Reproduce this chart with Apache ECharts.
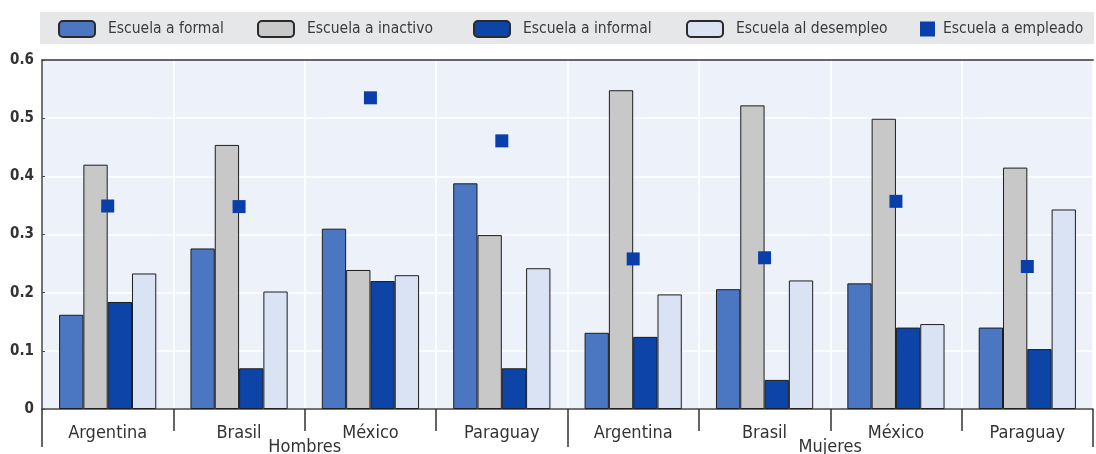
<!DOCTYPE html>
<html><head><meta charset="utf-8">
<script src="https://cdn.jsdelivr.net/npm/echarts@6/dist/echarts.min.js"></script>
<style>html,body{margin:0;padding:0;background:#fff}#c{width:1096px;height:454px}</style>
</head><body><div id="c"></div>
<script>
const countries = ['Argentina','Brasil','México','Paraguay','Argentina','Brasil','México','Paraguay'];
const groups = ['Hombres','Mujeres'];
const yTicks = [0,0.1,0.2,0.3,0.4,0.5,0.6];
const seriesNames = ['Escuela a formal','Escuela a inactivo','Escuela a informal','Escuela al desempleo','Escuela a empleado'];
const formal     = [0.162,0.276,0.310,0.388,0.131,0.206,0.216,0.140];
const inactivo   = [0.420,0.454,0.239,0.299,0.548,0.522,0.499,0.415];
const informal   = [0.184,0.070,0.220,0.070,0.124,0.050,0.140,0.103];
const desempleo  = [0.233,0.202,0.230,0.242,0.197,0.221,0.146,0.343];
const empleado   = [0.349,0.348,0.535,0.461,0.258,0.260,0.357,0.245];

const FONT = '"DejaVu Sans Condensed","Liberation Sans Narrow",sans-serif';
const chart = echarts.init(document.getElementById('c'));
const barStyle = (c) => ({color:c, borderColor:'#1e1e1e', borderWidth:1});
const legendLeft = [58, 257, 473, 686, 920];
const legends = seriesNames.map((n, i) => {
  const isSq = i === 4;
  return {
    left: legendLeft[i], top: isSq ? 21 : 20, padding: 0,
    itemWidth: isSq ? 15 : 36, itemHeight: isSq ? 15 : 16,
    symbolKeepAspect: true,
    itemStyle: isSq ? {borderWidth:0} : {borderWidth:2, borderColor:'#2a2a2a'},
    textStyle:{fontFamily:FONT, fontSize:15.5, color:'#3a3a3a', padding:[0,0,0, isSq ? 3 : 8]},
    data: isSq ? [{name:n, icon:'rect'}] : [n]
  };
});
chart.setOption({
  animation:false,
  textStyle:{fontFamily:FONT},
  graphic:[{type:'rect', shape:{x:40,y:12,width:1054,height:32}, style:{fill:'#e6e7e9'}, z:-1}],
  legend: legends,
  grid:{left:42, right:3, top:60, bottom:45, show:true, backgroundColor:'#edf1f9', borderWidth:0,
        containLabel:false, outerBoundsMode:'none'},
  xAxis:[{
    type:'category', data:countries, position:'bottom',
    axisLine:{show:true, lineStyle:{color:'#444', width:1.5}},
    axisTick:{show:true, interval:0, length:22, lineStyle:{color:'#333', width:1.5}},
    axisLabel:{interval:0, margin:15, fontFamily:FONT, fontSize:18, color:'#333'},
    splitLine:{show:true, interval:0, lineStyle:{color:'#ffffff', width:1.5}}
  },{
    type:'category', data:groups, position:'bottom',
    axisLine:{show:false},
    axisTick:{show:true, interval:0, length:38, lineStyle:{color:'#333', width:1.5}},
    axisLabel:{interval:0, margin:29, fontFamily:FONT, fontSize:18, color:'#333'},
    splitLine:{show:false}
  },{
    type:'category', data:groups, position:'top',
    axisLine:{show:true, lineStyle:{color:'#666', width:2}},
    axisTick:{show:false}, axisLabel:{show:false}
  }],
  yAxis:{
    type:'value', min:0, max:0.6, interval:0.1,
    axisLine:{show:true, lineStyle:{color:'#444', width:1.5}},
    axisTick:{show:true, inside:true, length:3, lineStyle:{color:'#444'}},
    axisLabel:{fontFamily:FONT, fontSize:15, fontWeight:'bold', color:'#333', margin:8,
      formatter:(v)=> yTicks.includes(Math.round(v*10)/10) ? (v===0?'0':v.toFixed(1)) : ''},
    splitLine:{show:true, lineStyle:{color:'#ffffff', width:1.5}}
  },
  series:[
    {name:seriesNames[0], type:'bar', data:formal, itemStyle:barStyle('#4a76c2'), barGap:'0%', barCategoryGap:'26%'},
    {name:seriesNames[1], type:'bar', data:inactivo, itemStyle:barStyle('#c8c8c9')},
    {name:seriesNames[2], type:'bar', data:informal, itemStyle:barStyle('#0c44a8')},
    {name:seriesNames[3], type:'bar', data:desempleo, itemStyle:barStyle('#dae3f3')},
    {name:seriesNames[4], type:'scatter', data:empleado, symbol:'rect', symbolSize:13, itemStyle:{color:'#0a3fab', opacity:1}, z:5}
  ]
});
</script></body></html>
